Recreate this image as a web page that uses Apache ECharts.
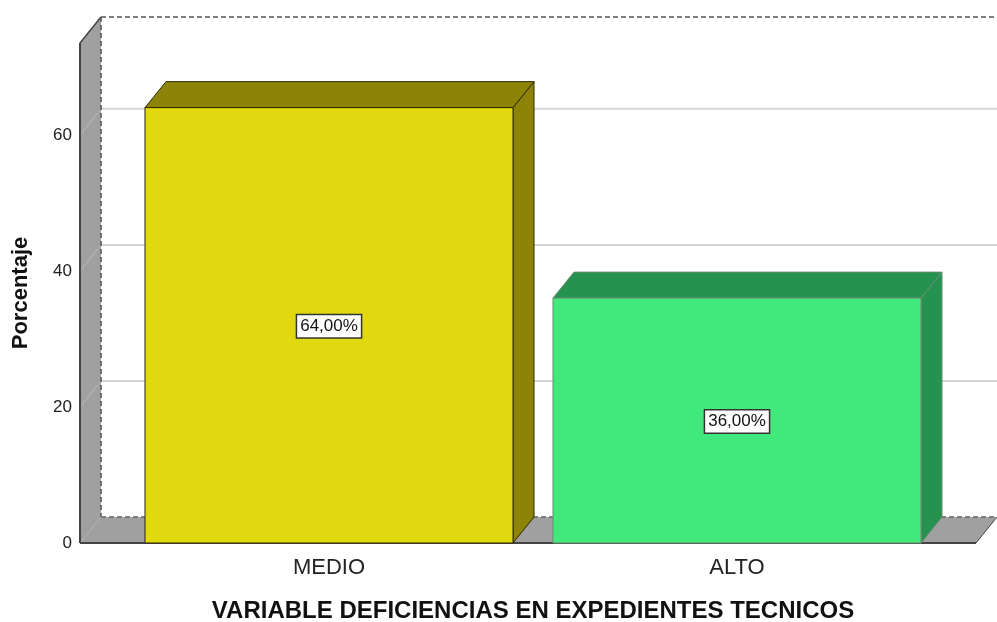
<!DOCTYPE html>
<html><head><meta charset="utf-8">
<script src="https://cdn.jsdelivr.net/npm/echarts@6/dist/echarts.min.js"></script>
<style>html,body{margin:0;padding:0;background:#fff}#c{width:997px;height:622px}</style>
</head><body><div id="c"></div>
<script>
const categories = ['MEDIO', 'ALTO'];
const values = [64, 36];
const labels = ['64,00%', '36,00%'];
const yTicks = [0, 20, 40, 60];
const frontColors = ['#E2D810', '#41E97D'];
const sideColors = ['#8C8308', '#26924F'];
const borderColors = ['#2a2a00', '#6a8a70'];

const DX = 21, DY = -26;
const FONT = '"Liberation Sans", Arial, sans-serif';
const chart = echarts.init(document.getElementById('c'), null, {renderer: 'canvas'});

function renderItem(params, api) {
  const i = api.value(0), v = api.value(1);
  const top = api.coord([i, v]);
  const base = api.coord([i, 0]);
  const w = api.size([1, 0])[0] * 0.902;
  const l = top[0] - w / 2, r = top[0] + w / 2, t = top[1], b = base[1];
  const bc = borderColors[i];
  return {
    type: 'group',
    children: [
      {type: 'polygon', shape: {points: [[r, b], [r + DX, b + DY], [r + DX, t + DY], [r, t]]},
        style: {fill: sideColors[i], stroke: bc, lineWidth: 1}},
      {type: 'polygon', shape: {points: [[l, t], [l + DX, t + DY], [r + DX, t + DY], [r, t]]},
        style: {fill: sideColors[i], stroke: bc, lineWidth: 1}},
      {type: 'rect', shape: {x: l, y: t, width: w, height: b - t},
        style: {fill: frontColors[i], stroke: bc, lineWidth: 1}},
      {type: 'text', x: top[0], y: (t + b) / 2 + 1,
        style: {text: labels[i], fill: '#111', font: '17px ' + FONT,
          align: 'center', verticalAlign: 'middle', backgroundColor: '#fff',
          borderColor: '#333', borderWidth: 1.5, padding: [3, 3, 2, 3]}}
    ]
  };
}

const option = {
  animation: false,
  grid: {left: 125, right: 56, top: 43, bottom: 79, containLabel: false, outerBoundsMode: 'none'},
  xAxis: {
    type: 'category', data: categories,
    axisLine: {show: false}, axisTick: {show: false},
    axisLabel: {margin: 14, fontSize: 22, color: '#222', fontFamily: FONT},
    name: 'VARIABLE DEFICIENCIAS EN EXPEDIENTES TECNICOS', nameLocation: 'middle', nameGap: 56,
    nameTextStyle: {fontSize: 24, fontWeight: 'bold', color: '#111', fontFamily: FONT}
  },
  yAxis: {
    type: 'value', min: 0, max: 73.5, interval: 20,
    axisLine: {show: false}, axisTick: {show: false}, splitLine: {show: false},
    axisLabel: {margin: 53, fontSize: 17, color: '#222', showMaxLabel: false,
      fontFamily: FONT, padding: [12, 0, 0, 0],
      formatter: v => (yTicks.indexOf(v) >= 0 ? String(v) : '')},
    name: 'Porcentaje', nameLocation: 'middle', nameGap: 93,
    nameTextStyle: {fontSize: 22, fontWeight: 'bold', color: '#111', fontFamily: FONT}
  },
  series: [{
    type: 'custom', z: 10, renderItem: renderItem,
    data: values.map((v, i) => [i, v])
  }]
};
chart.setOption(option);

// frame: walls, floor and back gridlines, computed through the axis scale
const y0 = chart.convertToPixel({yAxisIndex: 0}, 0);
const yMax = chart.convertToPixel({yAxisIndex: 0}, 73.5);
const xL = 80, xR = 976;
const g = [];
g.push({type: 'polygon', z: 0, shape: {points: [[xL, y0], [xL, yMax], [xL + DX, yMax + DY], [xL + DX, y0 + DY]]},
  style: {fill: '#A0A0A0', stroke: null}});
g.push({type: 'polygon', z: 0, shape: {points: [[xL, y0], [xR, y0], [xR + DX, y0 + DY], [xL + DX, y0 + DY]]},
  style: {fill: '#A0A0A0', stroke: null}});
yTicks.forEach(v => {
  if (v === 0) return;
  const y = chart.convertToPixel({yAxisIndex: 0}, v);
  g.push({type: 'line', z: 1, shape: {x1: xL + DX, y1: y + DY, x2: 997, y2: y + DY}, style: {stroke: '#D4D4D4', lineWidth: 2}});
  g.push({type: 'line', z: 1, shape: {x1: xL, y1: y, x2: xL + DX, y2: y + DY}, style: {stroke: '#BDBDBD', lineWidth: 1}});
});
g.push({type: 'line', z: 2, shape: {x1: xL + DX, y1: yMax + DY, x2: 997, y2: yMax + DY}, style: {stroke: '#555', lineWidth: 1.5, lineDash: [5, 3]}});
g.push({type: 'line', z: 2, shape: {x1: xL + DX, y1: yMax + DY, x2: xL + DX, y2: y0 + DY}, style: {stroke: '#555', lineWidth: 1.5, lineDash: [5, 3]}});
g.push({type: 'line', z: 2, shape: {x1: xL + DX, y1: y0 + DY, x2: 997, y2: y0 + DY}, style: {stroke: '#666', lineWidth: 1.5, lineDash: [5, 3]}});
g.push({type: 'line', z: 2, shape: {x1: xL, y1: y0, x2: xL, y2: yMax}, style: {stroke: '#444', lineWidth: 2}});
g.push({type: 'line', z: 2, shape: {x1: xL, y1: yMax, x2: xL + DX, y2: yMax + DY}, style: {stroke: '#444', lineWidth: 1.5}});
g.push({type: 'line', z: 2, shape: {x1: xL, y1: y0, x2: xR, y2: y0}, style: {stroke: '#444', lineWidth: 2}});
g.push({type: 'line', z: 2, shape: {x1: xR, y1: y0, x2: xR + DX, y2: y0 + DY}, style: {stroke: '#444', lineWidth: 1}});
chart.setOption({graphic: g.map(e => Object.assign({silent: true}, e))});
</script></body></html>
